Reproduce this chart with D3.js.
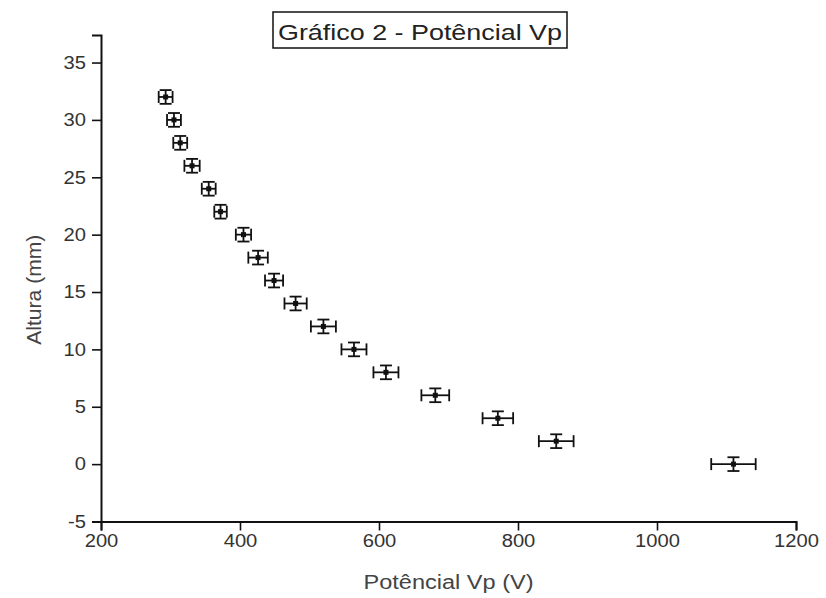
<!DOCTYPE html>
<html>
<head>
<meta charset="utf-8">
<script src="https://cdn.jsdelivr.net/npm/d3@7"></script>
<style>
  html, body { margin: 0; padding: 0; background: #fff; }
  svg { display: block; font-family: "Liberation Sans", Arial, sans-serif; }
</style>
</head>
<body>
<svg id="chart" width="826" height="598"></svg>
<script>
// Height (mm) against plate potential Vp (V), with error bars
const altura   = [32, 30, 28, 26, 24, 22, 20, 18, 16, 14, 12, 10, 8, 6, 4, 2, 0];
const potencial = [293, 305, 314, 331, 355, 372, 405, 426, 449, 480, 520, 564, 610, 681, 771, 855, 1110];
const erroV    = [10, 10, 10, 11, 10, 9, 11, 14, 13, 16, 18, 18, 18, 20, 22, 25, 32];
const erroAltura = [0.6, 0.6, 0.6, 0.6, 0.6, 0.6, 0.6, 0.6, 0.6, 0.6, 0.6, 0.6, 0.6, 0.6, 0.6, 0.6, 0.6];
const xTicks = [200, 400, 600, 800, 1000, 1200];
const yTicks = [-5, 0, 5, 10, 15, 20, 25, 30, 35];
const xMinor = [300, 500, 700, 900, 1100];
const yMinor = [-2.5, 2.5, 7.5, 12.5, 17.5, 22.5, 27.5, 32.5];

const svg = d3.select("#chart");
const x = d3.scaleLinear().domain([200, 1200]).range([101, 796]);
const y = d3.scaleLinear().domain([-5, 37.4]).range([521.5, 35]);

const ink = "#111";
const textInk = "#333";

// widen a text element horizontally by a factor, keeping its anchor
function widen(sel, k) {
  sel.each(function () {
    const w = this.getComputedTextLength();
    d3.select(this).attr("textLength", w * k).attr("lengthAdjust", "spacingAndGlyphs");
  });
}

// minor ticks first, then major axes on top
const gx = svg.append("g").attr("transform", `translate(0,${y(-5)})`);
gx.call(d3.axisBottom(x).tickValues(xMinor).tickSize(5).tickFormat(""));
gx.call(d3.axisBottom(x).tickValues(xTicks).tickSize(9).tickPadding(4).tickFormat(d => String(d)));
const gy = svg.append("g").attr("transform", `translate(${x(200)},0)`);
gy.call(d3.axisLeft(y).tickValues(yMinor).tickSize(5).tickFormat(""));
gy.call(d3.axisLeft(y).tickValues(yTicks).tickSize(9).tickPadding(6).tickFormat(d => String(d)));

svg.selectAll(".domain").attr("stroke", ink).attr("stroke-width", 2);
svg.selectAll(".tick line").attr("stroke", ink).attr("stroke-width", 1.6);
svg.selectAll(".tick text").attr("fill", textInk).style("font-size", "18px")
   .style("font-family", "'Liberation Sans', Arial, sans-serif");
widen(svg.selectAll(".tick text"), 1.12);

// axis titles
svg.append("text")
  .attr("x", (x(200) + x(1200)) / 2).attr("y", 589)
  .attr("text-anchor", "middle").attr("fill", "#444")
  .style("font-size", "20px")
  .attr("textLength", 170).attr("lengthAdjust", "spacingAndGlyphs")
  .text("Potêncial Vp (V)");
svg.append("text")
  .attr("transform", `translate(41,${y(15.2)}) rotate(-90)`)
  .attr("text-anchor", "middle").attr("fill", "#444")
  .style("font-size", "21px")
  .attr("textLength", 110).attr("lengthAdjust", "spacingAndGlyphs")
  .text("Altura (mm)");

// title box
const title = svg.append("g");
title.append("rect").attr("x", 273).attr("y", 12).attr("width", 294).attr("height", 36)
  .attr("fill", "#fff").attr("stroke", ink).attr("stroke-width", 1.5);
title.append("text").attr("x", 278).attr("y", 40)
  .attr("fill", "#222").style("font-size", "22px")
  .attr("textLength", 284).attr("lengthAdjust", "spacingAndGlyphs")
  .text("Gráfico 2 - Potêncial Vp");

// data points with error bars
const pts = altura.map((h, i) => ({ h, v: potencial[i], ev: erroV[i], eh: erroAltura[i] }));
const cap = 6;
const g = svg.append("g").attr("stroke", ink).attr("stroke-width", 1.8).attr("fill", "none");
pts.forEach(d => {
  const cx = x(d.v), cy = y(d.h);
  const x0 = x(d.v - d.ev), x1 = x(d.v + d.ev);
  const y0 = y(d.h - d.eh), y1 = y(d.h + d.eh);
  // horizontal error bar
  g.append("line").attr("x1", x0).attr("x2", x1).attr("y1", cy).attr("y2", cy);
  g.append("line").attr("x1", x0).attr("x2", x0).attr("y1", cy - cap).attr("y2", cy + cap);
  g.append("line").attr("x1", x1).attr("x2", x1).attr("y1", cy - cap).attr("y2", cy + cap);
  // vertical error bar
  g.append("line").attr("x1", cx).attr("x2", cx).attr("y1", y0).attr("y2", y1);
  g.append("line").attr("x1", cx - cap).attr("x2", cx + cap).attr("y1", y0).attr("y2", y0);
  g.append("line").attr("x1", cx - cap).attr("x2", cx + cap).attr("y1", y1).attr("y2", y1);
  // marker
  g.append("rect").attr("x", cx - 2.5).attr("y", cy - 2.5).attr("width", 5).attr("height", 5)
    .attr("fill", ink).attr("stroke", "none");
});
</script>
</body>
</html>
